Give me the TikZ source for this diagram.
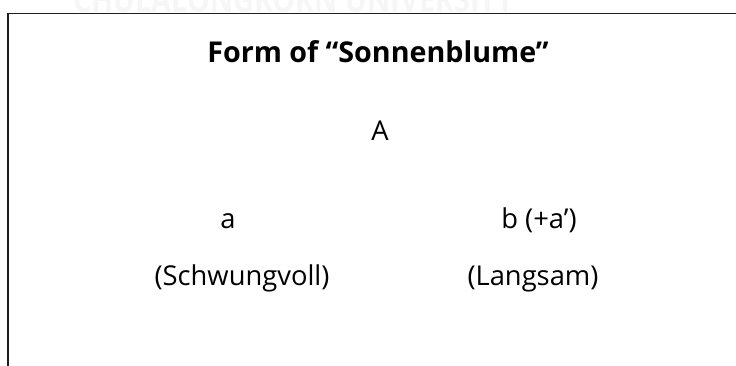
\documentclass[tikz,border=0pt]{standalone}
\usepackage{fontspec}
\setmainfont{Open Sans}
\usetikzlibrary{positioning}
\definecolor{framegray}{RGB}{30,30,30}
\definecolor{markgray}{RGB}{246,246,246}

\begin{document}
\begin{tikzpicture}[
    x=0.75pt, y=-0.75pt,
    % Node Styles
    titletext/.style={
        anchor=base,
        inner sep=0pt,
        font=\fontsize{21.5}{25}\selectfont\bfseries
    },
    parttext/.style={
        anchor=base,
        inner sep=0pt,
        font=\fontsize{20.5}{24}\selectfont
    },
    watermark/.style={
        anchor=base west,
        inner sep=0pt,
        text=markgray,
        xscale=0.8,
        transform shape,
        font=\fontsize{27}{30}\selectfont\bfseries
    },
    frameline/.style={
        draw=framegray,
        line width=1.3pt
    }
]

    % --- Page and clipping ---
    \useasboundingbox (0,0) rectangle (736,365);
    \clip (0,0) rectangle (736,365);

    % --- Watermark (cut by the page edge) ---
    \node[watermark] (mark) at (73,12) {CHULALONGKORN UNIVERSITY};

    % --- The open frame ---
    \coordinate (f1) at (8,380);
    \coordinate (f2) at (8,13.5);
    \coordinate (f3) at (750,13.5);
    \draw[frameline] (f1) -- (f2) -- (f3);

    % --- Title ---
    \node[titletext] (title) at (378,62) {Form of “Sonnenblume”};

    % --- Sections ---
    \node[parttext] (secA) at (380,140) {A};
    \node[parttext] (seca) at (228,228) {a};
    \node[parttext] (secb) at (539,228) {b (+a’)};

    % --- Tempo marks ---
    \node[parttext] (tempoa) at (242,285) {(Schwungvoll)};
    \node[parttext] (tempob) at (533,285) {(Langsam)};

\end{tikzpicture}
\end{document}
